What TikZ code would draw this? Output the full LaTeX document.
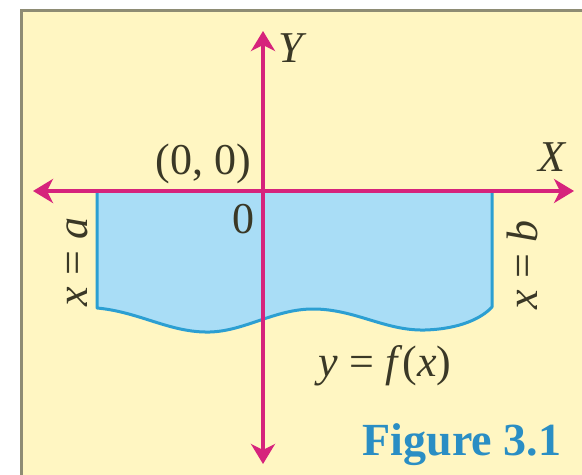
\documentclass[tikz,border=0pt]{standalone}
\usepackage{fontspec}
\setmainfont{Liberation Serif}
\usetikzlibrary{arrows.meta,positioning}
\definecolor{figpaper}{HTML}{FFF6C2}
\definecolor{figframe}{HTML}{8E8C74}
\definecolor{figaxis}{HTML}{D6237C}
\definecolor{figarea}{HTML}{A9DDF6}
\definecolor{figedge}{HTML}{2C9FD2}
\definecolor{figtext}{HTML}{3A3826}
\definecolor{figtitle}{HTML}{2A8EC4}
\tikzset{
    lbl/.style={text=figtext,inner sep=0pt,font=\fontsize{22}{26}\selectfont},
    axis/.style={draw=figaxis,line width=2pt,
        {Stealth[length=10pt,width=12pt,inset=3pt]}-{Stealth[length=10pt,width=12pt,inset=3pt]}},
    area/.style={fill=figarea,draw=figedge,line width=1.5pt,line join=round},
    caption/.style={text=figtitle,inner sep=0pt,font=\fontsize{23}{27}\selectfont\bfseries},
}

\begin{document}
\begin{tikzpicture}[x=0.5pt,y=-0.5pt]
    \useasboundingbox (0,0) rectangle (582,475);
    \fill[white] (0,0) rectangle (582,475);
    \begin{scope}
        \clip (0,0) rectangle (582,475);
        \draw[fill=figpaper,draw=figframe,line width=1.5pt] (21,11) rectangle (600,500);
    \end{scope}

    % axes
    \coordinate (o) at (263,191);
    \coordinate (xl) at (33,191);
    \coordinate (xr) at (574,191);
    \coordinate (yt) at (263,31);
    \coordinate (yb) at (263,464);

    % region under y = f(x)
    \coordinate (pa) at (97,191);
    \coordinate (pb) at (492,191);
    \draw[area] (pa) -- (97,308)
        .. controls (140,312) and (170,333) .. (210,332)
        .. controls (245,331) and (275,309) .. (313,309)
        .. controls (355,309) and (385,331) .. (425,330)
        .. controls (460,329) and (482,318) .. (492,307)
        -- (pb) -- cycle;

    \draw[axis] (xl) -- (xr);
    \draw[axis] (yb) -- (yt);

    \node[lbl] (ylab) at (293,48) {\textit{Y}};
    \node[lbl] (xlab) at (553,157) {\textit{X}};
    \node[lbl] (orig) at (203,164) {(0, 0)};
    \node[lbl] (zero) at (243,219) {0};
    \node[lbl,rotate=90] (xa) at (77,262) {\textit{x} = \textit{a}};
    \node[lbl,rotate=90] (xb) at (522,265) {\textit{x} = \textit{b}};
    \node[lbl] (fx) at (385,366) {\textit{y} = \textit{f}(\textit{x})};
    \node[caption] (cap) at (462,445) {Figure 3.1};
\end{tikzpicture}
\end{document}
